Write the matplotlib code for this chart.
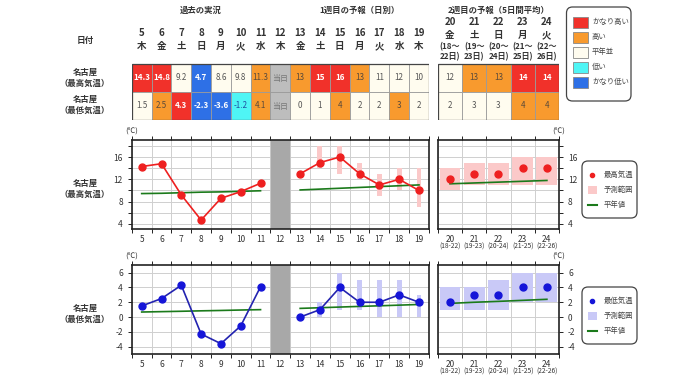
import numpy as np
import matplotlib
matplotlib.use("Agg")
import matplotlib.pyplot as plt
from matplotlib.patches import Rectangle, FancyBboxPatch

plt.rcParams['font.family'] = ['Noto Sans CJK JP', 'DejaVu Sans']

# ---- data ----
days = list(range(5, 20))
weekdays = ['木', '金', '土', '日', '月', '火', '水', '木', '金', '土', '日', '月', '火', '水', '木']
past_days = [5, 6, 7, 8, 9, 10, 11]
week1_days = [13, 14, 15, 16, 17, 18, 19]
range1_days = [14, 15, 16, 17, 18, 19]
week2_days = [20, 21, 22, 23, 24]
week2_wd = ['金', '土', '日', '月', '火']
week2_span = ['18～\n22日', '19～\n23日', '20～\n24日', '21～\n25日', '22～\n26日']
week2_tick = ['(18-22)', '(19-23)', '(20-24)', '(21-25)', '(22-26)']

max_txt = ['14.3', '14.8', '9.2', '4.7', '8.6', '9.8', '11.3', '当日',
           '13', '15', '16', '13', '11', '12', '10']
max_cls = ['vh', 'vh', 'n', 'vl', 'n', 'n', 'h', 'x', 'h', 'vh', 'vh', 'h', 'n', 'n', 'n']
min_txt = ['1.5', '2.5', '4.3', '-2.3', '-3.6', '-1.2', '4.1', '当日',
           '0', '1', '4', '2', '2', '3', '2']
min_cls = ['n', 'h', 'vh', 'vl', 'vl', 'l', 'h', 'x', 'n', 'n', 'h', 'n', 'n', 'h', 'n']
w2_max_txt = ['12', '13', '13', '14', '14']
w2_max_cls = ['n', 'h', 'h', 'vh', 'vh']
w2_min_txt = ['2', '3', '3', '4', '4']
w2_min_cls = ['n', 'n', 'n', 'h', 'h']

past_max = [14.3, 14.8, 9.2, 4.7, 8.6, 9.8, 11.3]
past_min = [1.5, 2.5, 4.3, -2.3, -3.6, -1.2, 4.1]
week1_max = [13, 15, 16, 13, 11, 12, 10]
week1_min = [0, 1, 4, 2, 2, 3, 2]
range1_max_lo = [14, 13, 12, 9, 10, 7]
range1_max_hi = [18, 18, 15, 13, 14, 14]
range1_min_lo = [0, 1, 1, 0, 0, 0]
range1_min_hi = [2, 6, 5, 5, 5, 3]
week2_max = [12, 13, 13, 14, 14]
week2_min = [2, 3, 3, 4, 4]
range2_max_lo = [10, 11, 11, 11, 11]
range2_max_hi = [14, 15, 15, 16, 16]
range2_min_lo = [1, 1, 1, 2, 2]
range2_min_hi = [4, 4, 5, 6, 6]
norm_max_past = [9.45, 9.5, 9.6, 9.7, 9.75, 9.85, 9.95]
norm_max_w1 = [10.1, 10.25, 10.4, 10.55, 10.7, 10.85, 11.0]
norm_max_w2 = [11.2, 11.35, 11.5, 11.65, 11.8]
norm_min_past = [0.68, 0.73, 0.78, 0.84, 0.89, 0.95, 1.0]
norm_min_w1 = [1.17, 1.26, 1.35, 1.44, 1.52, 1.61, 1.7]
norm_min_w2 = [1.85, 2.0, 2.12, 2.26, 2.4]

cls_color = {'vh': '#f1312a', 'h': '#f89a2e', 'n': '#fffcef', 'l': '#4ff5f5',
             'vl': '#2e70e6', 'x': '#bdbdbd'}
cls_text = {'vh': 'white', 'h': '#5a4a3a', 'n': '#555555', 'l': '#2050a0',
            'vl': 'white', 'x': '#777777'}
legend_labels = ['かなり高い', '高い', '平年並', '低い', 'かなり低い']
legend_cls = ['vh', 'h', 'n', 'l', 'vl']

RED = '#ee2020'
PINK = '#fbc9c9'
BLUE = '#1515d8'
NAVY = '#2323b0'
LAV = '#c9c9f7'
GREEN = '#1b7a1b'
TXT = '#333333'

W, H = 680, 382


def box(x0, y0, x1, y1):
    return [x0 / W, 1 - y1 / H, (x1 - x0) / W, (y1 - y0) / H]


fig = plt.figure(figsize=(6.8, 3.82), dpi=100)
fig.patch.set_facecolor('white')

ROW = 28.0


def draw_row(ax, xs, y, texts, classes):
    for x, t, c in zip(xs, texts, classes):
        ax.add_patch(Rectangle((x - 0.5, y), 1, 1, facecolor=cls_color[c],
                               edgecolor='#9a9a9a', lw=0.6))
        bold = c in ('vh', 'vl')
        ax.text(x, y + 0.5, t, ha='center', va='center', fontsize=5.8,
                color=cls_text[c], fontweight='bold' if bold else 'normal')


# ---- table 1 ----
tb1 = fig.add_axes(box(131.8, 0, 428.9, 120))
tb1.set_xlim(4.5, 19.5)
tb1.set_ylim(0, 120 / ROW)
tb1.axis('off')
draw_row(tb1, days, 1, max_txt, max_cls)
draw_row(tb1, days, 0, min_txt, min_cls)
tb1.add_patch(Rectangle((4.5, 0), 15, 2, fill=False, edgecolor='#444444', lw=0.9))
for d, wd in zip(days, weekdays):
    tb1.text(d, (120 - 33) / ROW, str(d), ha='center', va='center', fontsize=7,
             fontweight='bold', color=TXT)
    tb1.text(d, (120 - 46) / ROW, wd, ha='center', va='center', fontsize=6.8,
             fontweight='bold', color=TXT)
tb1.text(np.mean(past_days), (120 - 10) / ROW, '過去の実況', ha='center', va='center',
         fontsize=6, fontweight='bold', color=TXT)
tb1.text(np.mean(week1_days), (120 - 10) / ROW, '1週目の予報（日別）', ha='center',
         va='center', fontsize=6, fontweight='bold', color=TXT)

# ---- table 2 ----
tb2 = fig.add_axes(box(437.9, 0, 559, 120))
tb2.set_xlim(19.5, 24.5)
tb2.set_ylim(0, 120 / ROW)
tb2.axis('off')
draw_row(tb2, week2_days, 1, w2_max_txt, w2_max_cls)
draw_row(tb2, week2_days, 0, w2_min_txt, w2_min_cls)
tb2.add_patch(Rectangle((19.5, 0), 5, 2, fill=False, edgecolor='#444444', lw=0.9))
for d, wd, sp in zip(week2_days, week2_wd, week2_span):
    tb2.text(d, (120 - 22) / ROW, str(d), ha='center', va='center', fontsize=7,
             fontweight='bold', color=TXT)
    tb2.text(d, (120 - 35) / ROW, wd, ha='center', va='center', fontsize=6.8,
             fontweight='bold', color=TXT)
    tb2.text(d, (120 - 52) / ROW, '(' + sp + ')', ha='center', va='center', fontsize=5.8,
             fontweight='bold', color=TXT, linespacing=1.15)
tb2.text(np.mean(week2_days), (120 - 10) / ROW, '2週目の予報（5日間平均）', ha='center',
         va='center', fontsize=6, fontweight='bold', color=TXT)

# row labels
fig.text(85 / W, 1 - 40 / H, '日付', ha='center', va='center', fontsize=6.2,
         fontweight='bold', color=TXT)
for yc, lab in [(78, '名古屋\n（最高気温）'), (105, '名古屋\n（最低気温）'),
                (189, '名古屋\n（最高気温）'), (314, '名古屋\n（最低気温）')]:
    fig.text(85 / W, 1 - yc / H, lab, ha='center', va='center', fontsize=6,
             fontweight='bold', color=TXT, linespacing=1.35)


def legend_axes(x0, y0, x1, y1):
    # axes in pixel units, y grows downward
    ax = fig.add_axes(box(x0, y0, x1, y1))
    ax.set_xlim(x0, x1)
    ax.set_ylim(y1, y0)
    ax.axis('off')
    r = 6
    ax.add_patch(FancyBboxPatch((x0 + r, y0 + r), x1 - x0 - 2 * r, y1 - y0 - 2 * r,
                                boxstyle='round,pad=%d' % r, facecolor='white',
                                edgecolor='#444444', lw=0.9, clip_on=False))
    return ax


# category legend
lg = legend_axes(566.5, 7, 631, 101)
for i, (c, lab) in enumerate(zip(legend_cls, legend_labels)):
    yc = 22 + 15 * i
    lg.add_patch(Rectangle((573, yc - 5.5), 14.5, 11, facecolor=cls_color[c],
                           edgecolor='#888888', lw=0.6))
    lg.text(592, yc, lab, ha='left', va='center', fontsize=5.3, color='#444444')


# ---- charts ----
def style_axes(ax, xs, xlim, ylim, yt, ylabels, right=False):
    ax.set_xlim(*xlim)
    ax.set_ylim(*ylim)
    ax.set_xticks(xs)
    ax.set_xticks(np.arange(xlim[0], xlim[1] + 0.01, 1.0), minor=True)
    ax.tick_params(axis='x', which='major', length=0, labelsize=6, pad=4,
                   labelcolor=TXT)
    ax.tick_params(axis='x', which='minor', length=3, top=True, bottom=True,
                   direction='out', width=0.6)
    ax.set_yticks(yt)
    ax.set_yticklabels(ylabels)
    ax.tick_params(axis='y', length=3, width=0.6, labelsize=6, labelcolor=TXT,
                   left=not right, right=right, labelleft=not right,
                   labelright=right)
    ax.grid(which='minor', axis='x', color='#cfcfcf', lw=0.7)
    ax.grid(which='major', axis='y', color='#cfcfcf', lw=0.7)
    ax.set_axisbelow(True)
    for s in ax.spines.values():
        s.set_linewidth(1.2)
        s.set_color('#222222')


top_yt = list(range(4, 19, 2))
top_lab = [str(v) if v % 4 == 0 else '' for v in top_yt]
bot_yt = list(range(-4, 7, 2))
bot_lab = [str(v) for v in bot_yt]

# top left
a1 = fig.add_axes(box(131.8, 140, 428.9, 229))
style_axes(a1, days, (4.5, 19.5), (3.1, 19.05), top_yt, top_lab)
a1.axvspan(11.55, 12.45, color='#a8a8a8', zorder=1.5)
a1.bar(range1_days, np.array(range1_max_hi) - np.array(range1_max_lo),
       bottom=range1_max_lo, width=0.25, color=PINK, zorder=2)
a1.plot(past_days, norm_max_past, color=GREEN, lw=1.2, zorder=3)
a1.plot(week1_days, norm_max_w1, color=GREEN, lw=1.2, zorder=3)
a1.plot(past_days, past_max, '-o', color=RED, ms=5, lw=1.2, zorder=4)
a1.plot(week1_days, week1_max, '-o', color=RED, ms=5, lw=1.2, zorder=4)
a1.text(0, 1.09, '(℃)', transform=a1.transAxes, ha='center', va='center',
        fontsize=5.5, color=TXT)

# top right
a2 = fig.add_axes(box(437.9, 140, 559, 229))
style_axes(a2, week2_days, (19.5, 24.5), (3.1, 19.05), top_yt, top_lab, right=True)
a2.bar(week2_days, np.array(range2_max_hi) - np.array(range2_max_lo),
       bottom=range2_max_lo, width=0.86, color=PINK, zorder=2)
a2.plot(week2_days, norm_max_w2, color=GREEN, lw=1.2, zorder=3)
a2.plot(week2_days, week2_max, 'o', color=RED, ms=5, zorder=4)
a2.text(1, 1.09, '(℃)', transform=a2.transAxes, ha='center', va='center',
        fontsize=5.5, color=TXT)
for d, t in zip(week2_days, week2_tick):
    a2.text(d, -0.2, t, transform=a2.get_xaxis_transform(), ha='center',
            va='center', fontsize=4.8, color=TXT)

# bottom left
b1 = fig.add_axes(box(131.8, 265, 428.9, 354))
style_axes(b1, days, (4.5, 19.5), (-5.0, 7.04), bot_yt, bot_lab)
b1.axvspan(11.55, 12.45, color='#a8a8a8', zorder=1.5)
b1.bar(range1_days, np.array(range1_min_hi) - np.array(range1_min_lo),
       bottom=range1_min_lo, width=0.25, color=LAV, zorder=2)
b1.plot(past_days, norm_min_past, color=GREEN, lw=1.2, zorder=3)
b1.plot(week1_days, norm_min_w1, color=GREEN, lw=1.2, zorder=3)
b1.plot(past_days, past_min, '-', color=NAVY, lw=1.2, zorder=4)
b1.plot(week1_days, week1_min, '-', color=NAVY, lw=1.2, zorder=4)
b1.plot(past_days, past_min, 'o', color=BLUE, ms=5, zorder=5)
b1.plot(week1_days, week1_min, 'o', color=BLUE, ms=5, zorder=5)
b1.text(0, 1.09, '(℃)', transform=b1.transAxes, ha='center', va='center',
        fontsize=5.5, color=TXT)

# bottom right
b2 = fig.add_axes(box(437.9, 265, 559, 354))
style_axes(b2, week2_days, (19.5, 24.5), (-5.0, 7.04), bot_yt, bot_lab, right=True)
b2.bar(week2_days, np.array(range2_min_hi) - np.array(range2_min_lo),
       bottom=range2_min_lo, width=0.86, color=LAV, zorder=2)
b2.plot(week2_days, norm_min_w2, color=GREEN, lw=1.2, zorder=3)
b2.plot(week2_days, week2_min, 'o', color=BLUE, ms=5, zorder=4)
b2.text(1, 1.09, '(℃)', transform=b2.transAxes, ha='center', va='center',
        fontsize=5.5, color=TXT)
for d, t in zip(week2_days, week2_tick):
    b2.text(d, -0.2, t, transform=b2.get_xaxis_transform(), ha='center',
            va='center', fontsize=4.8, color=TXT)


def chart_legend(color, sq, label, y_top):
    ax = legend_axes(582, y_top, 637, y_top + 57)
    y = [y_top + 14, y_top + 29, y_top + 44]
    ax.plot([592], [y[0]], 'o', color=color, ms=3)
    ax.add_patch(Rectangle((588, y[1] - 4), 8.5, 8, facecolor=sq, edgecolor='none'))
    ax.plot([587.5, 597], [y[2], y[2]], color=GREEN, lw=1.5)
    for yy, lab in zip(y, [label, '予測範囲', '平年値']):
        ax.text(604, yy, lab, ha='left', va='center', fontsize=5.3, color='#444444')


chart_legend(RED, PINK, '最高気温', 161)
chart_legend(BLUE, LAV, '最低気温', 287)

fig.savefig('out.png', dpi=100)
